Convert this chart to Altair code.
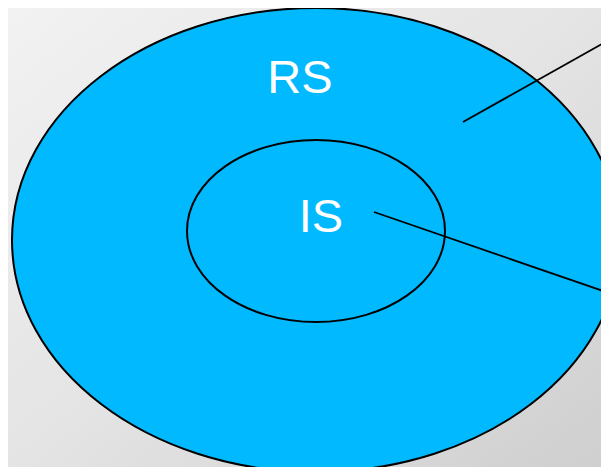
import altair as alt
import pandas as pd

# ---- data (pixel-like coordinate system) ----
ellipse_names = ["RS", "IS"]
ellipse_cx = [316, 316]
ellipse_cy = [240, 231]
ellipse_rx = [304, 129]
ellipse_ry = [232, 91]

label_text = ["RS", "IS"]
label_x = [300, 321]
label_y = [93, 232]

line_x1 = [463, 374]
line_y1 = [122, 212]
line_x2 = [609, 609]
line_y2 = [40, 293]

W, H = 593, 459
X0, Y0 = 8, 8

xs = alt.Scale(domain=[X0, X0 + W], nice=False, zero=False)
ys = alt.Scale(domain=[Y0, Y0 + H], nice=False, zero=False, reverse=True)
noax = None


def ellipse_path(ratio):
    k = 0.5523
    r = ratio
    kr = k * r
    return (f"M 1 0 C 1 {kr:.4f} {k} {r:.4f} 0 {r:.4f} "
            f"C {-k} {r:.4f} -1 {kr:.4f} -1 0 "
            f"C -1 {-kr:.4f} {-k} {-r:.4f} 0 {-r:.4f} "
            f"C {k} {-r:.4f} 1 {-kr:.4f} 1 0 Z")


ell = pd.DataFrame({
    "name": ellipse_names,
    "cx": ellipse_cx,
    "cy": ellipse_cy,
    "size": [(2 * r) ** 2 for r in ellipse_rx],
})

bg = alt.Chart(pd.DataFrame({"a": [0]})).mark_rect(
    color=alt.LinearGradient(
        gradient="linear", x1=0, y1=0, x2=1, y2=1,
        stops=[alt.GradientStop(offset=0, color="#f2f2f2"),
               alt.GradientStop(offset=0.5, color="#e4e4e4"),
               alt.GradientStop(offset=1, color="#cfcfcf")])
).encode(x=alt.value(0), x2=alt.value(W), y=alt.value(0), y2=alt.value(H))

outer = alt.Chart(ell.iloc[[0]]).mark_point(
    shape=ellipse_path(ellipse_ry[0] / ellipse_rx[0]),
    filled=True, fill="#00B9FF", stroke="black", strokeWidth=2, opacity=1,
).encode(
    x=alt.X("cx:Q", scale=xs, axis=noax),
    y=alt.Y("cy:Q", scale=ys, axis=noax),
    size=alt.Size("size:Q", scale=None),
)

inner = alt.Chart(ell.iloc[[1]]).mark_point(
    shape=ellipse_path(ellipse_ry[1] / ellipse_rx[1]),
    filled=False, stroke="black", strokeWidth=2, opacity=1,
).encode(
    x=alt.X("cx:Q", scale=xs, axis=noax),
    y=alt.Y("cy:Q", scale=ys, axis=noax),
    size=alt.Size("size:Q", scale=None),
)

lines = alt.Chart(pd.DataFrame({
    "x1": line_x1, "y1": line_y1, "x2": line_x2, "y2": line_y2
})).mark_rule(color="black", strokeWidth=1.8).encode(
    x=alt.X("x1:Q", scale=xs, axis=noax),
    y=alt.Y("y1:Q", scale=ys, axis=noax),
    x2="x2:Q",
    y2="y2:Q",
)

labels = alt.Chart(pd.DataFrame({
    "t": label_text, "x": label_x, "y": label_y
})).mark_text(
    font="Liberation Sans", fontSize=47, color="white",
    align="center", baseline="alphabetic",
).encode(
    x=alt.X("x:Q", scale=xs, axis=noax),
    y=alt.Y("y:Q", scale=ys, axis=noax),
    text="t:N",
)

chart = alt.layer(bg, outer, inner, lines, labels).properties(
    width=W, height=H,
    padding=0,
    autosize=alt.AutoSizeParams(type="none"),
).configure_view(stroke=None, clip=True).configure(background="#f0f0f0")

chart.save("out.html", embed_options={"renderer": "svg", "actions": False})
